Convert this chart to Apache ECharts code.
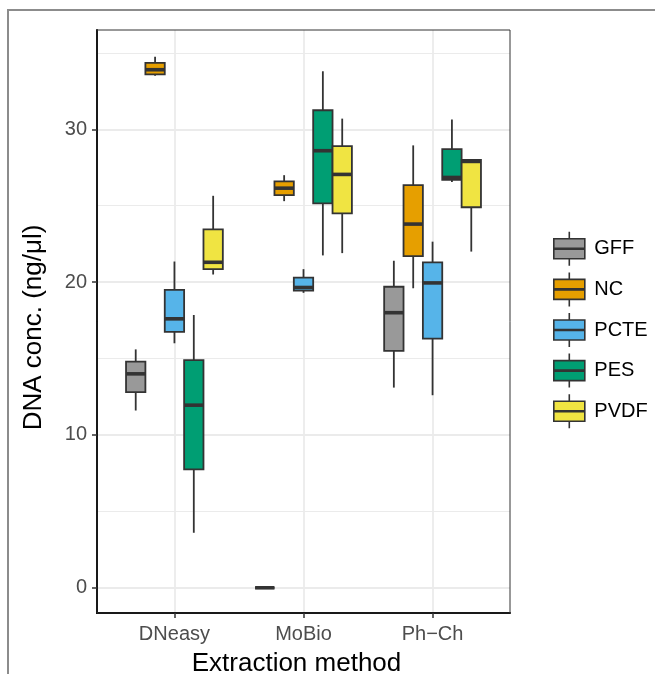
<!DOCTYPE html>
<html>
<head>
<meta charset="utf-8">
<script src="https://cdn.jsdelivr.net/npm/echarts@6/dist/echarts.min.js"></script>
<style>
  html, body { margin: 0; padding: 0; background: #fff; }
  #frame {
    position: absolute; left: 7px; top: 9px; width: 660px; height: 680px;
    border-left: 2px solid #8c8c8c; border-top: 2px solid #8c8c8c;
  }
  #main { position: absolute; left: 0; top: 0; width: 655px; height: 674px; }
</style>
</head>
<body>
<div id="frame"></div>
<div id="main"></div>
<script>
// extraction methods on the x axis
const methods = ['DNeasy', 'MoBio', 'Ph−Ch'];
const filters = ['GFF', 'NC', 'PCTE', 'PES', 'PVDF'];
const colors = ['#999999', '#E69F00', '#56B4E9', '#009E73', '#F0E442'];

// [min, q1, median, q3, max] per method
const gff = [[11.6, 12.8, 14.0, 14.8, 15.6], [0, 0, 0, 0, 0], [13.1, 15.5, 18.0, 19.7, 21.4]];
const nc = [[33.5, 33.6, 33.9, 34.35, 34.75], [25.3, 25.7, 26.15, 26.6, 27.0], [19.6, 21.7, 23.8, 26.35, 28.95]];
const pcte = [[16.0, 16.75, 17.6, 19.5, 21.35], [19.3, 19.45, 19.65, 20.3, 20.85], [12.6, 16.3, 19.95, 21.3, 22.65]];
const pes = [[3.6, 7.75, 11.95, 14.9, 17.85], [21.75, 25.15, 28.6, 31.25, 33.8], [26.55, 26.7, 26.85, 28.7, 30.65]];
const pvdf = [[20.5, 20.85, 21.3, 23.45, 25.65], [21.9, 24.5, 27.05, 28.9, 30.7], [22.0, 24.9, 27.9, 28.0, 28.0]];

const yTicks = [0, 10, 20, 30];

const groups = [gff, nc, pcte, pes, pvdf];
const DODGE = 0.15;
const OUTLINE = '#333333';
const FONT = 'Liberation Sans, Arial, sans-serif';

function renderBox(k) {
  return function (params, api) {
    const x = api.value(0) + (k - 2) * DODGE;
    const pMin = api.coord([x, api.value(1)]);
    const pQ1 = api.coord([x, api.value(2)]);
    const pMed = api.coord([x, api.value(3)]);
    const pQ3 = api.coord([x, api.value(4)]);
    const pMax = api.coord([x, api.value(5)]);
    const left = api.coord([x - DODGE / 2, 0])[0];
    const right = api.coord([x + DODGE / 2, 0])[0];
    return {
      type: 'group',
      children: [
        { type: 'line', shape: { x1: pMax[0], y1: pMax[1], x2: pQ3[0], y2: pQ3[1] },
          style: { stroke: OUTLINE, lineWidth: 1.8 } },
        { type: 'line', shape: { x1: pQ1[0], y1: pQ1[1], x2: pMin[0], y2: pMin[1] },
          style: { stroke: OUTLINE, lineWidth: 1.8 } },
        { type: 'rect', shape: { x: left, y: pQ3[1], width: right - left, height: pQ1[1] - pQ3[1] },
          style: { fill: colors[k], stroke: OUTLINE, lineWidth: 1.8 } },
        { type: 'line', shape: { x1: left, y1: pMed[1], x2: right, y2: pMed[1] },
          style: { stroke: OUTLINE, lineWidth: 3.6 } }
      ]
    };
  };
}

const series = groups.map(function (g, k) {
  return {
    name: filters[k],
    type: 'custom',
    coordinateSystem: 'cartesian2d',
    itemStyle: { color: colors[k] },
    renderItem: renderBox(k),
    encode: { x: 0, y: [1, 2, 3, 4, 5] },
    data: g.map(function (s, i) { return [i].concat(s); }),
    z: 2
  };
});

const chart = echarts.init(document.getElementById('main'));
chart.setOption({
  animation: false,
  textStyle: { fontFamily: FONT },
  grid: {
    left: 97, top: 30, width: 413, height: 583,
    show: true, z: 3, backgroundColor: 'transparent',
    borderColor: OUTLINE, borderWidth: 1,
    outerBoundsMode: 'none'
  },
  legend: {
    orient: 'vertical',
    left: 548, top: 226,
    itemWidth: 40, itemHeight: 34, itemGap: 5,
    icon: 'path://M15.5 0 L15.5 7 M0 7 L31 7 L31 27 L0 27 Z M0 16.5 L31 16.5 M0 17.5 L31 17.5 M15.5 27 L15.5 34',
    itemStyle: { borderColor: OUTLINE, borderWidth: 1.6 },
    textStyle: { fontSize: 20, color: '#000', fontFamily: FONT },
    data: filters
  },
  xAxis: {
    type: 'value',
    min: -0.6, max: 2.6, splitNumber: 3,
    name: 'Extraction method',
    nameLocation: 'middle', nameGap: 38,
    nameTextStyle: { fontSize: 26, color: '#000', fontFamily: FONT, padding: [0, 14, 0, 0] },
    axisLine: { show: true, onZero: false, lineStyle: { color: '#000', width: 2 } },
    axisTick: { show: true, customValues: [0, 1, 2], length: 5, lineStyle: { color: OUTLINE, width: 1.5 } },
    axisLabel: {
      customValues: [0, 1, 2], margin: 11,
      fontSize: 20, color: '#4d4d4d', fontFamily: FONT,
      formatter: function (v) { return methods[Math.round(v)]; }
    },
    splitLine: { show: true, lineStyle: { color: '#ebebeb', width: 1.8 } },
    minorSplitLine: { show: false }
  },
  yAxis: {
    type: 'value',
    min: -1.65, max: 36.5,
    name: 'DNA conc. (ng/μl)',
    nameLocation: 'middle', nameGap: 50,
    nameTextStyle: { fontSize: 26, color: '#000', fontFamily: FONT, padding: [0, 12, 0, 0] },
    axisLine: { show: true, onZero: false, lineStyle: { color: '#000', width: 2 } },
    axisTick: { show: true, customValues: yTicks, length: 5, lineStyle: { color: OUTLINE, width: 1.5 } },
    axisLabel: {
      customValues: yTicks, margin: 10,
      fontSize: 20, color: '#4d4d4d', fontFamily: FONT
    },
    splitLine: { show: true, lineStyle: { color: '#ebebeb', width: 1.8 } },
    minorTick: { show: false, splitNumber: 2 },
    minorSplitLine: { show: true, lineStyle: { color: '#ebebeb', width: 1 } }
  },
  series: series
});
</script>
</body>
</html>
